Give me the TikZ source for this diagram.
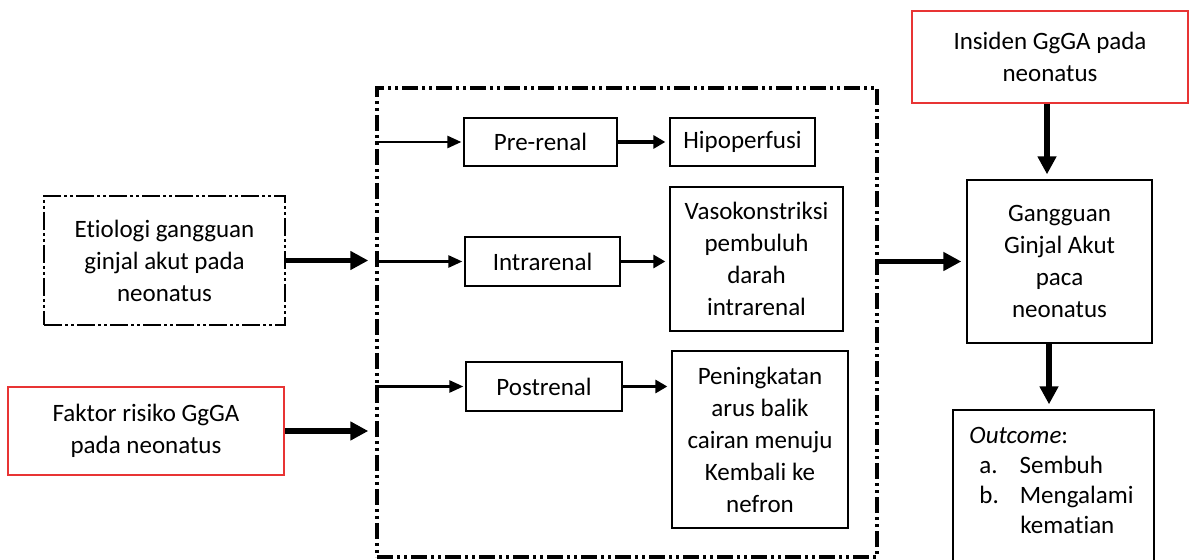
\documentclass[tikz,border=0pt]{standalone}
\usepackage{fontspec}
\setmainfont{Carlito}[Ligatures=NoCommon]
\usepackage{tikz}
\usetikzlibrary{arrows.meta}
\definecolor{merah}{RGB}{232,52,52}

\begin{document}
\begin{tikzpicture}[
    x=0.5pt, y=-0.5pt,
    kotak/.style={draw, line width=0.65pt, align=center, inner sep=2pt, font=\fontsize{12.5}{16}\selectfont},
    merahbox/.style={kotak, draw=merah},
    titikbox/.style={kotak, line width=1pt, dash pattern=on 9pt off 1.5pt on 1.5pt off 1.5pt on 1.5pt off 1.5pt},
    kerangka/.style={draw, line width=1.7pt, dash pattern=on 8pt off 2pt on 1.5pt off 2pt on 1.5pt off 2pt},
    tebal/.style={-{Triangle[length=9pt, width=9pt]}, line width=2.8pt},
    tipis/.style={-{Triangle[length=7pt, width=6pt]}, line width=1.3pt},
    pendek/.style={-{Triangle[length=6pt, width=6.5pt]}, line width=1.6pt}
]
\useasboundingbox (0,0) rectangle (1193,560);

% Input
\node[titikbox, minimum width=120.5pt, minimum height=64.5pt] (etiologi) at (164.5,260.5)
    {Etiologi gangguan\\ginjal akut pada\\neonatus};
\node[merahbox, minimum width=138pt, minimum height=44pt] (faktor) at (146,431)
    {Faktor risiko GgGA\\pada neonatus};

% Frame of the three causes
\node[kerangka, minimum width=250pt, minimum height=234.5pt] (kerangka) at (627,322.5) {};

% Causes
\node[kotak, minimum width=76.5pt, minimum height=24pt] (prerenal) at (540.5,142) {Pre-renal};
\node[kotak, minimum width=77.5pt, minimum height=24.5pt] (intrarenal) at (542.5,261.5) {Intrarenal};
\node[kotak, minimum width=78pt, minimum height=24.5pt] (postrenal) at (544,386.5) {Postrenal};

% Mechanisms
\node[kotak, minimum width=72.5pt, minimum height=24pt] (hipo) at (742.5,142) {Hipoperfusi};
\node[kotak, minimum width=86.5pt, minimum height=72pt] (vaso) at (756.5,259)
    {Vasokonstriksi\\pembuluh\\darah\\intrarenal};
\node[kotak, minimum width=88pt, minimum height=88.5pt] (pening) at (760,439.5)
    {Peningkatan\\arus balik\\cairan menuju\\Kembali ke\\nefron};

% Output
\node[merahbox, minimum width=138pt, minimum height=46pt] (insiden) at (1050,57)
    {Insiden GgGA pada\\neonatus};
\node[kotak, minimum width=92.5pt, minimum height=81.5pt] (ggak) at (1059.5,261.5)
    {Gangguan\\Ginjal Akut\\paca\\neonatus};
\node[kotak, minimum width=100.5pt, minimum height=95pt] (outcome) at (1053.5,505) {};
\node[anchor=north west, inner sep=0pt, font=\fontsize{12.5}{15}\selectfont, align=left] (outcometeks) at (969,427)
    {\textit{Outcome}:\\
     \hspace*{5pt}a.\hspace{11pt}Sembuh\\
     \hspace*{5pt}b.\hspace{10.5pt}Mengalami\\
     \hspace*{25.5pt}kematian};

% Thick arrows
\draw[tebal, shorten >=3.5pt] (etiologi.east) -- (etiologi.east -| kerangka.west);
\draw[tebal, shorten >=3.5pt] (faktor.east) -- (faktor.east -| kerangka.west);
\draw[tebal, shorten >=2.5pt] (kerangka.east |- ggak.west) -- (ggak.west);
\draw[tebal, shorten >=2.5pt] (insiden.south -| 1047,0) -- (ggak.north -| 1047,0);
\draw[tebal, shorten >=2.5pt] (ggak.south -| 1049,0) -- (outcome.north -| 1049,0);

% Inner arrows
\draw[tipis, shorten >=1pt] (kerangka.west |- prerenal) -- (prerenal.west);
\draw[tipis, shorten >=1pt] (kerangka.west |- intrarenal) -- (intrarenal.west);
\draw[tipis, shorten >=1pt] (kerangka.west |- postrenal) -- (postrenal.west);
\draw[pendek, shorten >=2pt] (prerenal.east) -- (hipo.west);
\draw[pendek, shorten >=2pt] (intrarenal.east) -- (intrarenal.east -| vaso.west);
\draw[pendek, shorten >=2pt] (postrenal.east) -- (postrenal.east -| pening.west);

\end{tikzpicture}
\end{document}
